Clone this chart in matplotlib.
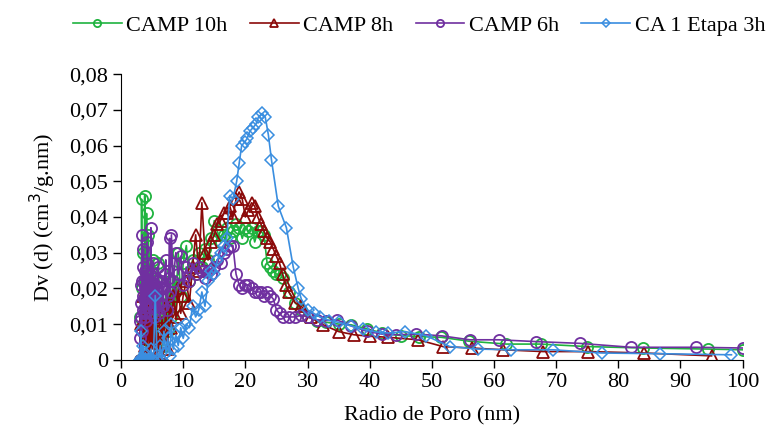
import matplotlib
matplotlib.use("Agg")
import matplotlib.pyplot as plt
from matplotlib.ticker import FuncFormatter, MultipleLocator

plt.rcParams['font.family'] = ['Liberation Serif', 'DejaVu Serif']

# CAMP 10h
x_10h = [3.0, 3.1, 3.2, 3.3, 3.4, 3.5, 3.6, 3.7, 3.8, 3.9, 4.0, 4.1, 4.2, 4.4, 4.6, 4.8,
         5.0, 5.2, 5.4, 5.6, 5.8, 6.0, 6.3, 6.6, 6.9, 7.2, 7.5, 7.8, 8.1, 8.4, 8.8, 9.2,
         9.6, 10.0, 10.5, 11.0, 11.5, 12.0, 12.5, 13.0, 13.5, 14.0, 14.5, 15.0, 15.5, 16.0,
         16.5, 17.0, 17.5, 18.0, 18.5, 19.0, 19.5, 20.0, 20.5, 21.0, 21.5, 22.0, 22.5, 23.0,
         23.5, 24.0, 24.5, 25.0, 25.5, 26.0, 27.0, 28.0, 29.0, 30.0, 31.5, 33.0, 35.0, 37.0,
         39.5, 42.0, 45.0, 48.0, 51.5, 56.0, 62.0, 67.5, 75.0, 84.0, 94.5, 100.0]
y_10h = [0.000, 0.012, 0.000, 0.045, 0.020, 0.000, 0.030, 0.010, 0.046, 0.022, 0.000, 0.041, 0.018, 0.035, 0.015, 0.025,
         0.008, 0.028, 0.012, 0.022, 0.005, 0.027, 0.010, 0.020, 0.004, 0.018, 0.008, 0.022, 0.012, 0.025, 0.015, 0.030,
         0.018, 0.027, 0.032, 0.022, 0.028, 0.024, 0.030, 0.026, 0.031, 0.028, 0.034, 0.039, 0.036, 0.033,
         0.035, 0.037, 0.034, 0.036, 0.038, 0.037, 0.034, 0.037, 0.036, 0.037, 0.033, 0.036, 0.036, 0.035,
         0.027, 0.026, 0.025, 0.024, 0.024, 0.023, 0.019, 0.016, 0.014, 0.012, 0.011, 0.0105, 0.0100, 0.0098,
         0.0087, 0.0075, 0.0068, 0.0065, 0.0063, 0.0052, 0.0044, 0.0044, 0.0037, 0.0033, 0.0030, 0.0028]

# CAMP 8h
x_8h = [3.0, 3.2, 3.4, 3.6, 3.8, 4.0, 4.2, 4.4, 4.6, 4.8, 5.0, 5.2, 5.4, 5.6, 5.8, 6.0,
        6.3, 6.6, 6.9, 7.2, 7.5, 7.8, 8.1, 8.4, 8.8, 9.2, 9.6, 10.0, 10.5, 11.0, 11.5, 12.0,
        12.5, 13.0, 13.5, 14.0, 14.5, 15.0, 15.5, 16.0, 16.5, 17.0, 17.5, 18.0, 18.5, 19.0,
        19.5, 20.0, 20.5, 21.0, 21.5, 22.0, 22.5, 23.0, 23.5, 24.0, 24.5, 25.0, 25.5, 26.0,
        26.5, 27.0, 28.0, 29.0, 30.5, 32.5, 35.0, 37.5, 40.0, 43.0, 47.8, 51.8, 56.4, 61.5,
        67.9, 75.1, 84.2, 95.0]
y_8h = [0.000, 0.010, 0.000, 0.018, 0.004, 0.020, 0.002, 0.015, 0.000, 0.012, 0.003, 0.016, 0.001, 0.010, 0.000, 0.008,
        0.002, 0.012, 0.005, 0.015, 0.003, 0.016, 0.009, 0.018, 0.012, 0.020, 0.013, 0.018, 0.022, 0.016, 0.026, 0.035,
        0.025, 0.044, 0.030, 0.028, 0.033, 0.035, 0.038, 0.039, 0.041, 0.041, 0.043, 0.040, 0.045, 0.047,
        0.045, 0.040, 0.042, 0.044, 0.043, 0.040, 0.038, 0.036, 0.034, 0.033, 0.031, 0.029, 0.027, 0.024,
        0.021, 0.019, 0.016, 0.015, 0.012, 0.0098, 0.0079, 0.0070, 0.0066, 0.0063, 0.0056, 0.0037, 0.0033, 0.0028,
        0.0023, 0.0023, 0.0019, 0.0011]

# CAMP 6h
x_6h = [3.0, 3.05, 3.1, 3.15, 3.2, 3.25, 3.3, 3.35, 3.4, 3.45, 3.5, 3.55, 3.6, 3.65, 3.7, 3.75,
        3.8, 3.85, 3.9, 3.95, 4.0, 4.1, 4.2, 4.3, 4.4, 4.5, 4.6, 4.7, 4.8, 4.9, 5.0, 5.1,
        5.2, 5.3, 5.4, 5.5, 5.6, 5.7, 5.8, 5.9, 6.0, 6.15, 6.3, 6.45, 6.6, 6.75, 6.9, 7.05,
        7.2, 7.35, 7.5, 7.65, 7.8, 7.95, 8.1, 8.4, 8.8, 9.2, 9.6,
        10.0, 10.5, 11.0, 11.5, 12.0, 12.5, 13.0, 13.5, 14.0, 14.5, 15.0, 15.5, 16.0, 16.5,
        17.0, 17.5, 18.0, 18.5, 19.0, 19.5, 20.0, 20.5, 21.0, 21.5, 22.0, 22.5, 23.0, 23.5,
        24.0, 24.5, 25.0, 25.5, 26.0, 27.0, 28.0, 29.0, 30.0, 31.5, 33.0, 34.7, 37.0, 39.5,
        42.0, 44.3, 47.5, 51.6, 56.1, 60.8, 66.7, 73.8, 82.1, 92.5, 100.0]
y_6h = [0.000, 0.006, 0.011, 0.016, 0.021, 0.012, 0.008, 0.022, 0.035, 0.014, 0.018, 0.026, 0.031, 0.013, 0.022, 0.017,
        0.012, 0.020, 0.025, 0.011, 0.020, 0.027, 0.033, 0.018, 0.016, 0.022, 0.024, 0.013, 0.037, 0.015, 0.019, 0.024,
        0.027, 0.012, 0.015, 0.021, 0.023, 0.014, 0.018, 0.022, 0.026, 0.013, 0.016, 0.020, 0.022, 0.015, 0.020, 0.024,
        0.028, 0.014, 0.018, 0.023, 0.034, 0.019, 0.035, 0.022, 0.030, 0.024, 0.029,
        0.021, 0.026, 0.022, 0.027, 0.024, 0.026, 0.025, 0.023, 0.025, 0.024, 0.026, 0.028, 0.027, 0.030,
        0.031, 0.032, 0.032, 0.024, 0.021, 0.020, 0.021, 0.021, 0.020, 0.019, 0.019, 0.019, 0.018, 0.019,
        0.018, 0.017, 0.014, 0.013, 0.012, 0.012, 0.012, 0.0125, 0.012, 0.0112, 0.011, 0.0112, 0.0095, 0.0080,
        0.0072, 0.0070, 0.0072, 0.0067, 0.0056, 0.0056, 0.0051, 0.0046, 0.0035, 0.0035, 0.0033]

# CA 1 Etapa 3h
x_3h = [3.0, 3.1, 3.2, 3.3, 3.4, 3.5, 3.6, 3.7, 3.8, 3.9, 4.0, 4.2, 4.4, 4.6, 4.8, 5.0,
        5.2, 5.5, 5.8, 6.0, 6.3, 6.6, 6.9, 7.2, 7.5, 7.8, 8.1, 8.4, 8.8, 9.2, 9.6, 10.0,
        10.5, 11.0, 11.5, 12.0, 12.5, 13.0, 13.5, 14.0, 14.5, 15.0, 15.5, 16.0, 16.5, 17.0,
        17.5, 18.0, 18.6, 19.0, 19.4, 19.9, 20.3, 20.7, 21.2, 21.7, 22.1, 22.7, 23.2, 23.7,
        24.2, 25.3, 26.6, 27.7, 28.5, 29.0, 30.0, 31.0, 32.0, 33.5, 35.0, 37.0, 39.0, 41.0,
        43.0, 45.7, 49.0, 52.9, 57.4, 62.8, 69.5, 77.3, 86.7, 98.2]
y_3h = [0.000, 0.000, 0.008, 0.000, 0.000, 0.004, 0.000, 0.000, 0.000, 0.002, 0.000, 0.000, 0.000, 0.000, 0.003, 0.000,
        0.000, 0.018, 0.000, 0.000, 0.004, 0.000, 0.008, 0.002, 0.006, 0.001, 0.010, 0.003, 0.007, 0.004, 0.009, 0.006,
        0.010, 0.009, 0.015, 0.012, 0.014, 0.019, 0.015, 0.022, 0.025, 0.024, 0.028, 0.030, 0.032, 0.034,
        0.046, 0.045, 0.050, 0.055, 0.060, 0.061, 0.062, 0.064, 0.065, 0.066, 0.068, 0.069, 0.068, 0.063,
        0.056, 0.043, 0.037, 0.026, 0.020, 0.017, 0.014, 0.013, 0.012, 0.011, 0.0105, 0.0095, 0.0085, 0.0078,
        0.0075, 0.0079, 0.0068, 0.0037, 0.0030, 0.0028, 0.0028, 0.0019, 0.0017, 0.0014]

labels = ['CAMP 10h', 'CAMP 8h', 'CAMP 6h', 'CA 1 Etapa 3h']

fig = plt.figure(figsize=(7.76, 4.34), dpi=100)
ax = fig.add_axes([0.156, 0.171, 0.801, 0.658])

ax.plot(x_10h, y_10h, color='#1fb33f', marker='o', mfc='none', ms=8, mew=1.3, lw=1.2, label=labels[0])
ax.plot(x_8h, y_8h, color='#8b0a0a', marker='^', mfc='none', ms=8.5, mew=1.3, lw=1.2, label=labels[1])
ax.plot(x_6h, y_6h, color='#7030a0', marker='o', mfc='none', ms=8, mew=1.3, lw=1.2, label=labels[2])
ax.plot(x_3h, y_3h, color='#3a8ee0', marker='D', mfc='none', ms=6, mew=1.1, lw=1.2, label=labels[3])

ax.set_xlim(0, 100)
ax.set_ylim(0, 0.08)
ax.xaxis.set_major_locator(MultipleLocator(10))
ax.yaxis.set_major_locator(MultipleLocator(0.01))
ax.yaxis.set_major_formatter(FuncFormatter(lambda v, p: '0' if abs(v) < 1e-9 else f'{v:.2f}'.replace('.', ',')))

for s in ['top', 'right']:
    ax.spines[s].set_visible(False)
ax.tick_params(direction='out', length=6, width=1, labelsize=16, colors='black')
ax.set_xlabel('Radio de Poro (nm)', fontsize=16, labelpad=10)
ax.set_ylabel('Dv (d) (cm$^{3}$/g.nm)', fontsize=16, labelpad=8)

fig.legend(loc='upper center', bbox_to_anchor=(0.54, 1.01), ncol=4, frameon=False,
           fontsize=16, handlelength=2.2, handletextpad=0.2, columnspacing=1.0,
           markerscale=0.65)

fig.savefig('out.png', dpi=100)
